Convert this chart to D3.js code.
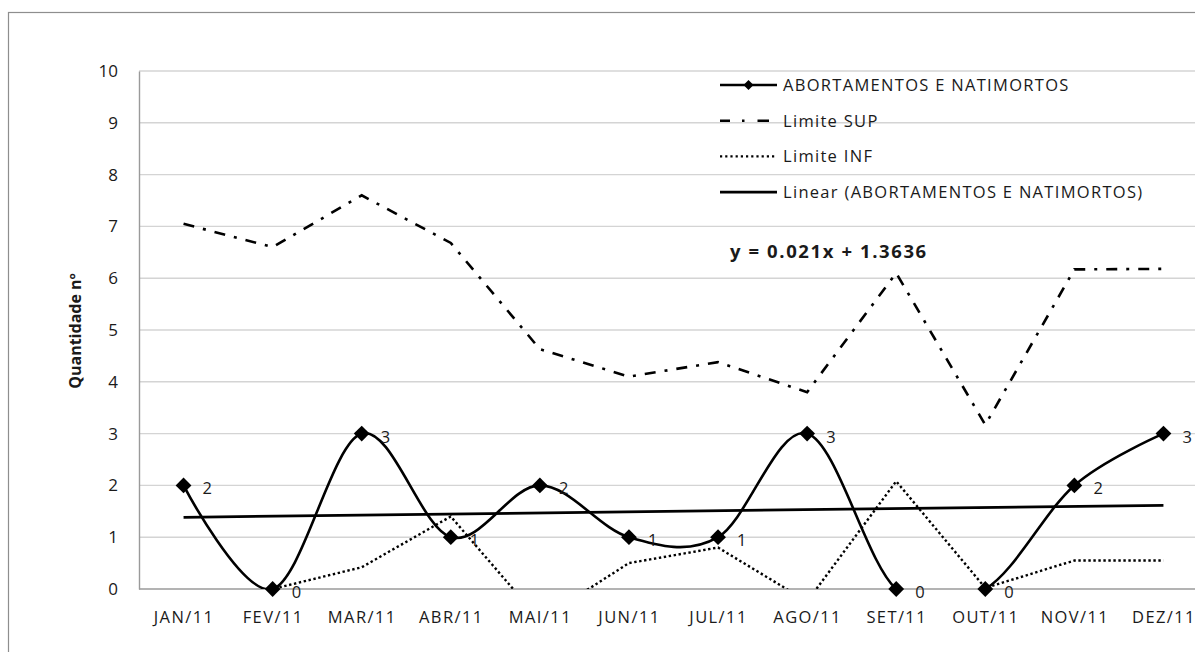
<!DOCTYPE html>
<html>
<head>
<meta charset="utf-8">
<script src="https://cdn.jsdelivr.net/npm/d3@7"></script>
<style>
  html, body { margin: 0; padding: 0; background: #fff; }
  svg { display: block; }
  text { font-family: "Open Sans", "Liberation Sans", sans-serif; fill: #1a1a1a; }
</style>
</head>
<body>
<svg id="chart" width="1195" height="652"></svg>
<script>
// Monthly counts and control limits
const months = ["JAN/11", "FEV/11", "MAR/11", "ABR/11", "MAI/11", "JUN/11",
                "JUL/11", "AGO/11", "SET/11", "OUT/11", "NOV/11", "DEZ/11"];
const abortos = [2, 0, 3, 1, 2, 1, 1, 3, 0, 0, 2, 3];
const limiteSup = [7.05, 6.6, 7.6, 6.68, 4.63, 4.1, 4.38, 3.8, 6.1, 3.17, 6.17, 6.18];
const limiteInf = [-1.0, 0, 0.42, 1.4, -0.6, 0.5, 0.8, -0.24, 2.08, 0.02, 0.55, 0.55];
const yTicks = [0, 1, 2, 3, 4, 5, 6, 7, 8, 9, 10];

// Linear trend of the monthly counts (x = 1..12)
const trendSlope = 0.021;
const trendIntercept = 1.3636;
const trendLabel = "y = 0.021x + 1.3636";

const legendItems = [
  { key: "serie", label: "ABORTAMENTOS E NATIMORTOS" },
  { key: "sup", label: "Limite SUP" },
  { key: "inf", label: "Limite INF" },
  { key: "trend", label: "Linear (ABORTAMENTOS E NATIMORTOS)" }
];

const svg = d3.select("#chart");

// Plot area
const plot = { left: 139, right: 1208, top: 71, bottom: 589 };

const x = d3.scalePoint().domain(months).range([plot.left, plot.right]).padding(0.5);
const y = d3.scaleLinear().domain([0, 10]).range([plot.bottom, plot.top]);

// Chart frame
svg.append("rect")
  .attr("x", 8.5).attr("y", 12.5)
  .attr("width", 1200).attr("height", 700)
  .attr("fill", "none").attr("stroke", "#8e8e8e").attr("stroke-width", 1.2);

// Clip for the series lines
svg.append("defs").append("clipPath").attr("id", "plotClip")
  .append("rect")
  .attr("x", plot.left).attr("y", plot.top - 2)
  .attr("width", plot.right - plot.left).attr("height", plot.bottom - plot.top + 2);

// Horizontal gridlines
svg.append("g").selectAll("line")
  .data(yTicks.filter(d => d > 0))
  .join("line")
  .attr("x1", plot.left).attr("x2", plot.right)
  .attr("y1", d => y(d)).attr("y2", d => y(d))
  .attr("stroke", "#d4d4d4").attr("stroke-width", 1.4);

// Y axis
const yAxis = svg.append("g")
  .attr("transform", `translate(${plot.left},0)`)
  .call(d3.axisLeft(y).tickValues(yTicks).tickSize(0).tickPadding(21).tickFormat(d3.format("d")));
yAxis.select(".domain").attr("stroke", "#9a9a9a").attr("stroke-width", 1.4);
yAxis.selectAll("text")
  .style("font-family", "\"Open Sans\", sans-serif")
  .style("font-size", "17px").attr("fill", "#1a1a1a");

// X axis
const xAxis = svg.append("g")
  .attr("transform", `translate(0,${plot.bottom})`)
  .call(d3.axisBottom(x).tickSize(0).tickPadding(22).tickSizeOuter(0));
xAxis.select(".domain")
  .attr("d", `M${plot.left},0H${plot.right}`)
  .attr("stroke", "#9a9a9a").attr("stroke-width", 1.4);
xAxis.selectAll("text")
  .style("font-family", "\"Open Sans\", sans-serif")
  .style("font-size", "16.5px").style("letter-spacing", "1.4px").attr("fill", "#1a1a1a");

// Y axis title
svg.append("text")
  .attr("transform", `translate(81,331) rotate(-90)`)
  .attr("text-anchor", "middle")
  .style("font-size", "16px").style("font-weight", "bold")
  .text("Quantidade nº");

const smooth = d3.curveCardinal.tension(0);
const smoothLine = d3.line()
  .x((d, i) => x(months[i]))
  .y(d => y(d))
  .curve(smooth);
const straightLine = d3.line()
  .x((d, i) => x(months[i]))
  .y(d => y(d));

const series = svg.append("g").attr("clip-path", "url(#plotClip)");

// Upper limit (dash-dot)
series.append("path")
  .datum(limiteSup)
  .attr("d", straightLine)
  .attr("fill", "none").attr("stroke", "#000").attr("stroke-width", 2.6)
  .attr("stroke-dasharray", "11,9,3,9");

// Lower limit (dotted)
series.append("path")
  .datum(limiteInf)
  .attr("d", straightLine)
  .attr("fill", "none").attr("stroke", "#000").attr("stroke-width", 2.4)
  .attr("stroke-dasharray", "2.4,2.6");

// Main series
series.append("path")
  .datum(abortos)
  .attr("d", smoothLine)
  .attr("fill", "none").attr("stroke", "#000").attr("stroke-width", 2.6);

// Linear trend
const trendEnds = [1, months.length];
svg.append("line")
  .attr("x1", x(months[0])).attr("x2", x(months[months.length - 1]))
  .attr("y1", y(trendSlope * trendEnds[0] + trendIntercept))
  .attr("y2", y(trendSlope * trendEnds[1] + trendIntercept))
  .attr("stroke", "#000").attr("stroke-width", 2.8);

// Diamond markers
const diamond = d3.symbol().type(d3.symbolSquare).size(125);
svg.append("g").selectAll("path")
  .data(abortos)
  .join("path")
  .attr("d", diamond)
  .attr("transform", (d, i) => `translate(${x(months[i])},${y(d)}) rotate(45)`)
  .attr("fill", "#000");

// Value labels
svg.append("g").selectAll("text")
  .data(abortos)
  .join("text")
  .attr("x", (d, i) => x(months[i]) + 19)
  .attr("y", d => y(d) + 9)
  .style("font-size", "16.5px")
  .text(d => d);

// Trend equation
svg.append("text")
  .attr("x", 730).attr("y", 258)
  .style("font-size", "18.5px").style("font-weight", "bold")
  .style("letter-spacing", "1.6px")
  .text(trendLabel);

// Legend
const legend = svg.append("g");
const lgX0 = 720, lgX1 = 777, lgY0 = 85, lgStep = 35.7;
legendItems.forEach((item, i) => {
  const yy = lgY0 + i * lgStep;
  const g = legend.append("g");
  if (item.key === "serie") {
    g.append("line").attr("x1", lgX0).attr("x2", lgX1).attr("y1", yy).attr("y2", yy)
      .attr("stroke", "#000").attr("stroke-width", 2.6);
    g.append("path").attr("d", d3.symbol().type(d3.symbolSquare).size(50)())
      .attr("transform", `translate(${(lgX0 + lgX1) / 2},${yy}) rotate(45)`).attr("fill", "#000");
  } else if (item.key === "sup") {
    g.append("line").attr("x1", lgX0).attr("x2", lgX1 - 8).attr("y1", yy).attr("y2", yy)
      .attr("stroke", "#000").attr("stroke-width", 2.6)
      .attr("stroke-dasharray", "10,12,2.5,13,12");
  } else if (item.key === "inf") {
    g.append("line").attr("x1", lgX0).attr("x2", lgX1).attr("y1", yy).attr("y2", yy)
      .attr("stroke", "#000").attr("stroke-width", 2.2)
      .attr("stroke-dasharray", "2.2,3");
  } else {
    g.append("line").attr("x1", lgX0).attr("x2", lgX1).attr("y1", yy).attr("y2", yy)
      .attr("stroke", "#000").attr("stroke-width", 2.8);
  }
  g.append("text")
    .attr("x", 783).attr("y", yy + 6)
    .style("font-size", "16.5px")
    .style("letter-spacing", "1.3px")
    .text(item.label);
});
</script>
</body>
</html>
